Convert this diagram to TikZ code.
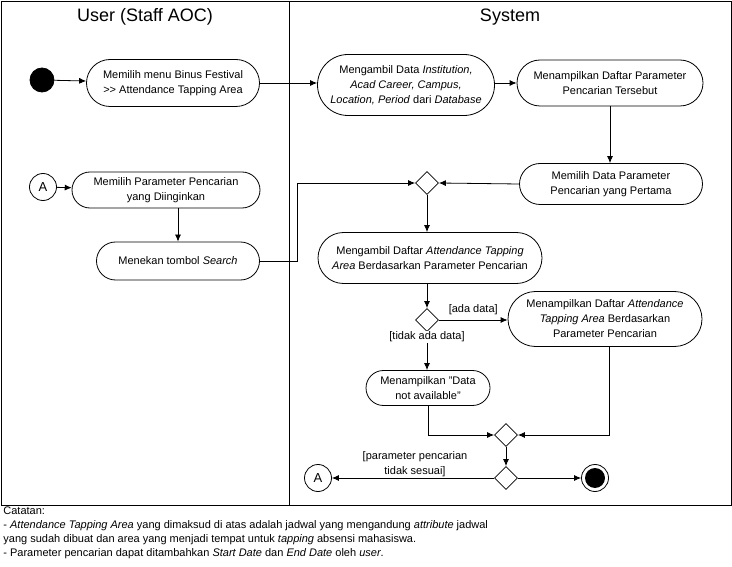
\documentclass[tikz,border=0pt]{standalone}
\usepackage{fontspec}
\setmainfont{Liberation Sans}
\usetikzlibrary{arrows, arrows.meta, shapes, positioning}

\tikzset{
    activity/.style={draw, rounded rectangle, align=center, inner sep=0pt},
    branch/.style={draw, diamond, minimum width=23pt, minimum height=23pt, inner sep=0pt},
    connector/.style={draw, circle, minimum size=27pt, inner sep=0pt},
    guard/.style={inner sep=1pt, align=center},
    flow/.style={->}
}

\begin{document}
\begin{tikzpicture}[x=1pt, y=-1pt, line width=0.8pt, >={Latex[length=7pt,width=6pt]},
        font=\fontsize{11}{15}\selectfont]

        \useasboundingbox (0,0) rectangle (732,567);

        % Swimlanes
        \draw (1,1) rectangle (731,505);
        \draw (289,1) -- (289,505);
        \node (userlane) at (145,17) {\fontsize{18}{20}\selectfont User (Staff AOC)};
        \node (systemlane) at (510,17) {\fontsize{18}{20}\selectfont System};

        % Start
        \node[draw, circle, fill=black, minimum size=24pt, inner sep=0pt] (start) at (42,80) {};

        % Memilih menu
        \node[activity, minimum width=173pt, minimum height=47pt] (menu) at (173,83)
            {Memilih menu Binus Festival\\{>}{>} Attendance Tapping Area};
        \draw[flow] (start) -- (menu);

        % Mengambil data
        \node[activity, minimum width=177pt, minimum height=61pt] (fetch) at (406,85)
            {Mengambil Data \textit{Institution,}\\\textit{Acad Career, Campus,}\\\textit{Location, Period} dari \textit{Database}};
        \draw[flow] (menu.east) -- (menu.east -| fetch.west);

        % Menampilkan parameter
        \node[activity, minimum width=186pt, minimum height=46pt] (showparam) at (610,83)
            {Menampilkan Daftar Parameter\\Pencarian Tersebut};
        \draw[flow] (fetch.east |- showparam) -- (showparam.west);

        % Memilih data pertama
        \node[activity, minimum width=183pt, minimum height=41pt] (first) at (611,184)
            {Memilih Data Parameter\\Pencarian yang Pertama};
        \draw[flow] (showparam.south -| 610,0) -- (first.north -| 610,0);

        % Merge 1
        \node[branch] (merge1) at (427,183) {};
        \draw[flow] (first.west) -- (merge1.east);

        % Mengambil daftar area
        \node[activity, minimum width=224pt, minimum height=51pt] (fetcharea) at (430,258)
            {Mengambil Daftar \textit{Attendance Tapping}\\\textit{Area} Berdasarkan Parameter Pencarian};
        \draw[flow] (merge1.south) -- (merge1.south |- fetcharea.north);

        % Connector A (user)
        \node[connector] (conA) at (43,187) {\fontsize{13}{15}\selectfont A};

        % Memilih parameter
        \node[activity, minimum width=188pt, minimum height=36pt] (choose) at (166,190)
            {Memilih Parameter Pencarian\\yang Diinginkan};
        \draw[flow] (conA) -- (choose);

        % Menekan tombol search
        \node[activity, minimum width=163pt, minimum height=38pt] (search) at (178,261)
            {Menekan tombol \textit{Search}};
        \draw[flow] (choose.south -| search.north) -- (search.north);
        \draw[flow] (search.east) -- ++(37,0) |- (merge1.west);

        % Decision 1
        \node[branch] (dec1) at (427,320) {};
        \draw[flow] (fetcharea.south -| dec1) -- (dec1.north);

        % Menampilkan daftar area
        \node[activity, minimum width=194pt, minimum height=55pt] (showarea) at (605,319)
            {Menampilkan Daftar \textit{Attendance}\\\textit{Tapping Area} Berdasarkan\\Parameter Pencarian};
        \draw[flow] (dec1.east) -- (dec1.east -| showarea.west)
            node[guard, midway, above=4pt] (ada) {[ada data]};

        % Data not available
        \node[activity, minimum width=124pt, minimum height=35pt] (nodata) at (428,388)
            {Menampilkan "Data\\not available"};
        \draw[flow] (dec1.south) -- (dec1.south |- nodata.north);
        \node[guard, fill=white] (tidak) at (427,337) {[tidak ada data]};

        % Merge 2
        \node[branch] (merge2) at (506,435) {};
        \draw[flow] (nodata.south) |- (merge2.west);
        \draw[flow] ([xshift=4pt]showarea.south) |- (merge2.east);

        % Decision 2
        \node[branch] (dec2) at (506,478) {};
        \draw[flow] (merge2.south) -- (dec2.north);

        % Connector A (system)
        \node[connector] (conA2) at (318,478) {\fontsize{13}{15}\selectfont A};
        \draw[flow] (dec2.west) -- (conA2.east);
        \node[guard] (sesuai) at (415,464) {[parameter pencarian\\tidak sesuai]};

        % End
        \node[draw, circle, minimum size=27pt, inner sep=0pt] (final) at (595,478) {};
        \fill (final.center) circle (10);
        \draw[flow] (dec2.east) -- (final.west);

        % Catatan
        \node[anchor=north west, align=left, inner sep=0pt, font=\fontsize{11}{14}\selectfont] (note) at (3,506)
            {Catatan:\\
            - \textit{Attendance Tapping Area} yang dimaksud di atas adalah jadwal yang mengandung \textit{attribute} jadwal\\
            yang sudah dibuat dan area yang menjadi tempat untuk \textit{tapping} absensi mahasiswa.\\
            - Parameter pencarian dapat ditambahkan \textit{Start Date} dan \textit{End Date} oleh \textit{user}.};

    \end{tikzpicture}
\end{document}
